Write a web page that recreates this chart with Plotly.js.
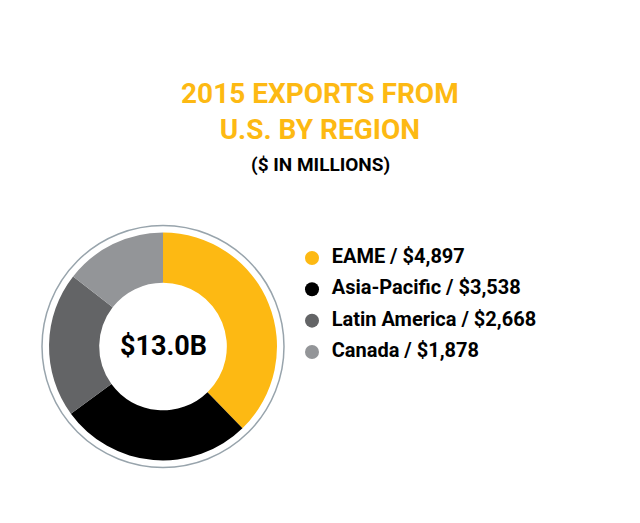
<!DOCTYPE html>
<html>
<head>
<meta charset="utf-8">
<script src="https://cdn.plot.ly/plotly-3.0.1.min.js"></script>
<style>html,body{margin:0;padding:0;background:#fff;}#chart{width:640px;height:523px;}</style>
</head>
<body>
<div id="chart"></div>
<script>
const regions = ["EAME", "Asia-Pacific", "Latin America", "Canada"];
const exportsMillions = [4897, 3538, 2668, 1878];
const colors = ["#FDB913", "#000000", "#636466", "#939598"];
const titleLines = ["2015 EXPORTS FROM", "U.S. BY REGION"];
const subtitle = "($ IN MILLIONS)";
const centerLabel = "$13.0B";

const FONT = "Roboto, 'Liberation Sans', sans-serif";

const fmt = v => "$" + v.toLocaleString("en-US");
const legendTexts = regions.map((r, i) => "\u00A0\u00A0<b>" + r + " / " + fmt(exportsMillions[i]) + "</b>");
const legendIdx = regions.map((r, i) => i);

const pie = {
  type: "pie",
  labels: regions,
  values: exportsMillions,
  marker: {colors: colors, line: {width: 0}},
  hole: 0.56,
  sort: false,
  direction: "clockwise",
  rotation: 0,
  textinfo: "none",
  hoverinfo: "label+value",
  showlegend: false,
  domain: {x: [0.0766, 0.4328], y: [0.1195, 0.5554]}
};

const legend = {
  type: "scatter",
  mode: "markers+text",
  x: regions.map(() => 0),
  y: legendIdx,
  text: legendTexts,
  textposition: "middle right",
  textfont: {family: FONT, size: 20, color: "#000", weight: 700},
  marker: {color: colors, size: 14},
  hoverinfo: "skip",
  showlegend: false,
  xaxis: "x",
  yaxis: "y"
};

const layout = {
  width: 640, height: 523,
  margin: {l: 0, r: 0, t: 0, b: 0},
  paper_bgcolor: "#fff",
  plot_bgcolor: "rgba(0,0,0,0)",
  showlegend: false,
  xaxis: {domain: [0.4, 0.9], range: [-0.35, 1.65], visible: false, fixedrange: true},
  yaxis: {domain: [0.2971, 0.5367], range: [3.5, -0.5], visible: false, fixedrange: true},
  shapes: [{
    type: "circle", xref: "paper", yref: "paper",
    x0: (163 - 121) / 640, x1: (163 + 121) / 640,
    y0: (176.5 - 121) / 523, y1: (176.5 + 121) / 523,
    line: {color: "#98A4AC", width: 1.5}
  }],
  annotations: [
    {text: "<b>" + titleLines.join("<br>") + "</b>", x: 0.5, y: 0.787, xref: "paper", yref: "paper",
     xanchor: "center", yanchor: "middle", showarrow: false,
     font: {family: FONT, size: 28, color: "#FDB913"}},
    {text: "<b>" + subtitle + "</b>", x: 0.5, y: 0.6855, xref: "paper", yref: "paper",
     xanchor: "center", yanchor: "middle", showarrow: false,
     font: {family: FONT, size: 19, color: "#000"}},
    {text: "<b>" + centerLabel + "</b>", x: 163 / 640, y: 0.3375, xref: "paper", yref: "paper",
     xanchor: "center", yanchor: "middle", showarrow: false,
     font: {family: FONT, size: 27, color: "#000"}}
  ]
};

Plotly.newPlot("chart", [pie, legend], layout, {displayModeBar: false, staticPlot: true});
</script>
</body>
</html>
